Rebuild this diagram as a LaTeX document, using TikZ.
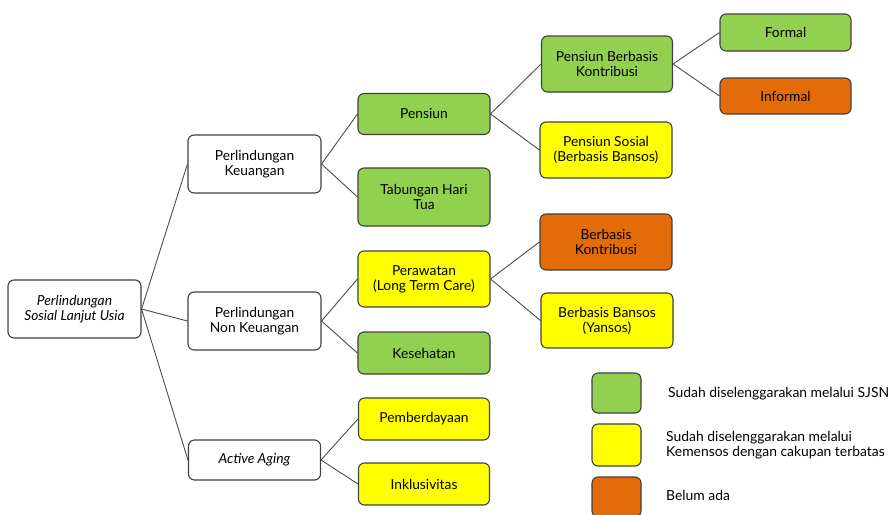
\documentclass[tikz,border=0pt]{standalone}
\usepackage{fontspec}
\setmainfont{Lato}
\begin{document}
\begin{tikzpicture}[x=1pt,y=-1pt,
  box/.style={draw=black!75,line width=1.1pt,rounded corners=6pt,align=center,
    font=\fontsize{13.8}{15}\selectfont,inner sep=0pt,anchor=center},
  wbox/.style={box,fill=white},
  gbox/.style={box,fill=grn},
  ybox/.style={box,fill=yel},
  obox/.style={box,fill=org},
  conn/.style={draw=black!70,line width=0.9pt},
  legtext/.style={anchor=west,align=left,font=\fontsize{13.9}{15.5}\selectfont,inner sep=0pt}]
\definecolor{grn}{HTML}{92D050}
\definecolor{yel}{HTML}{FFFF00}
\definecolor{org}{HTML}{E36C09}
\useasboundingbox (0,0) rectangle (890,514);
% level 0
\node[wbox,minimum width=133pt,minimum height=58pt] (root) at (74.5,309) {\itshape Perlindungan\\\itshape Sosial Lanjut Usia};
% level 1
\node[wbox,minimum width=133pt,minimum height=58pt] (pk) at (254.5,164) {Perlindungan\\Keuangan};
\node[wbox,minimum width=133pt,minimum height=58pt] (pnk) at (254.5,321) {Perlindungan\\Non Keuangan};
\node[wbox,minimum width=132pt,minimum height=40pt] (aa) at (254.5,460) {\itshape Active Aging};
% level 2
\node[gbox,minimum width=132pt,minimum height=41pt] (pen) at (424,114) {Pensiun};
\node[gbox,minimum width=132pt,minimum height=58pt] (tht) at (424,197) {Tabungan Hari\\Tua};
\node[ybox,minimum width=132pt,minimum height=56pt] (per) at (424,279) {Perawatan\\(Long Term Care)};
\node[gbox,minimum width=132pt,minimum height=42pt] (kes) at (424,353) {Kesehatan};
\node[ybox,minimum width=131pt,minimum height=42pt] (pem) at (424,419) {Pemberdayaan};
\node[ybox,minimum width=131pt,minimum height=42pt] (ink) at (424,484) {Inklusivitas};
% level 3
\node[gbox,minimum width=131pt,minimum height=56pt] (pbk) at (607,64) {Pensiun Berbasis\\Kontribusi};
\node[ybox,minimum width=132pt,minimum height=56pt] (ps) at (606,150) {Pensiun Sosial\\(Berbasis Bansos)};
\node[obox,minimum width=132pt,minimum height=56pt] (bk) at (606,242) {Berbasis\\Kontribusi};
\node[ybox,minimum width=132pt,minimum height=55pt] (bb) at (607,320.5) {Berbasis Bansos\\(Yansos)};
% level 4
\node[gbox,minimum width=131pt,minimum height=37pt] (for) at (785.5,32.5) {Formal};
\node[obox,minimum width=131pt,minimum height=36pt] (inf) at (785.5,96) {Informal};
% connectors
\draw[conn] (root.east) -- (pk.west);
\draw[conn] (root.east) -- (pnk.west);
\draw[conn] (root.east) -- (aa.west);
\draw[conn] (pk.east) -- (pen.west);
\draw[conn] (pk.east) -- (tht.west);
\draw[conn] (pnk.east) -- (per.west);
\draw[conn] (pnk.east) -- (kes.west);
\draw[conn] (aa.east) -- (pem.west);
\draw[conn] (aa.east) -- (ink.west);
\draw[conn] (pen.east) -- (pbk.west);
\draw[conn] (pen.east) -- (ps.west);
\draw[conn] (per.east) -- (bk.west);
\draw[conn] (per.east) -- (bb.west);
\draw[conn] (pbk.east) -- (for.west);
\draw[conn] (pbk.east) -- (inf.west);
% legend
\node[gbox,minimum width=49pt,minimum height=40pt] (lg) at (616.5,393) {};
\node[ybox,minimum width=49pt,minimum height=42pt] (ly) at (616.5,445) {};
\node[obox,minimum width=49pt,minimum height=40pt] (lo) at (616.5,497) {};
\node[legtext] (tg) at (668,394) {Sudah diselenggarakan melalui SJSN};
\node[legtext] (ty) at (666,445) {Sudah diselenggarakan melalui\\Kemensos dengan cakupan terbatas};
\node[legtext] (to) at (666,495) {Belum ada};
\end{tikzpicture}
\end{document}
